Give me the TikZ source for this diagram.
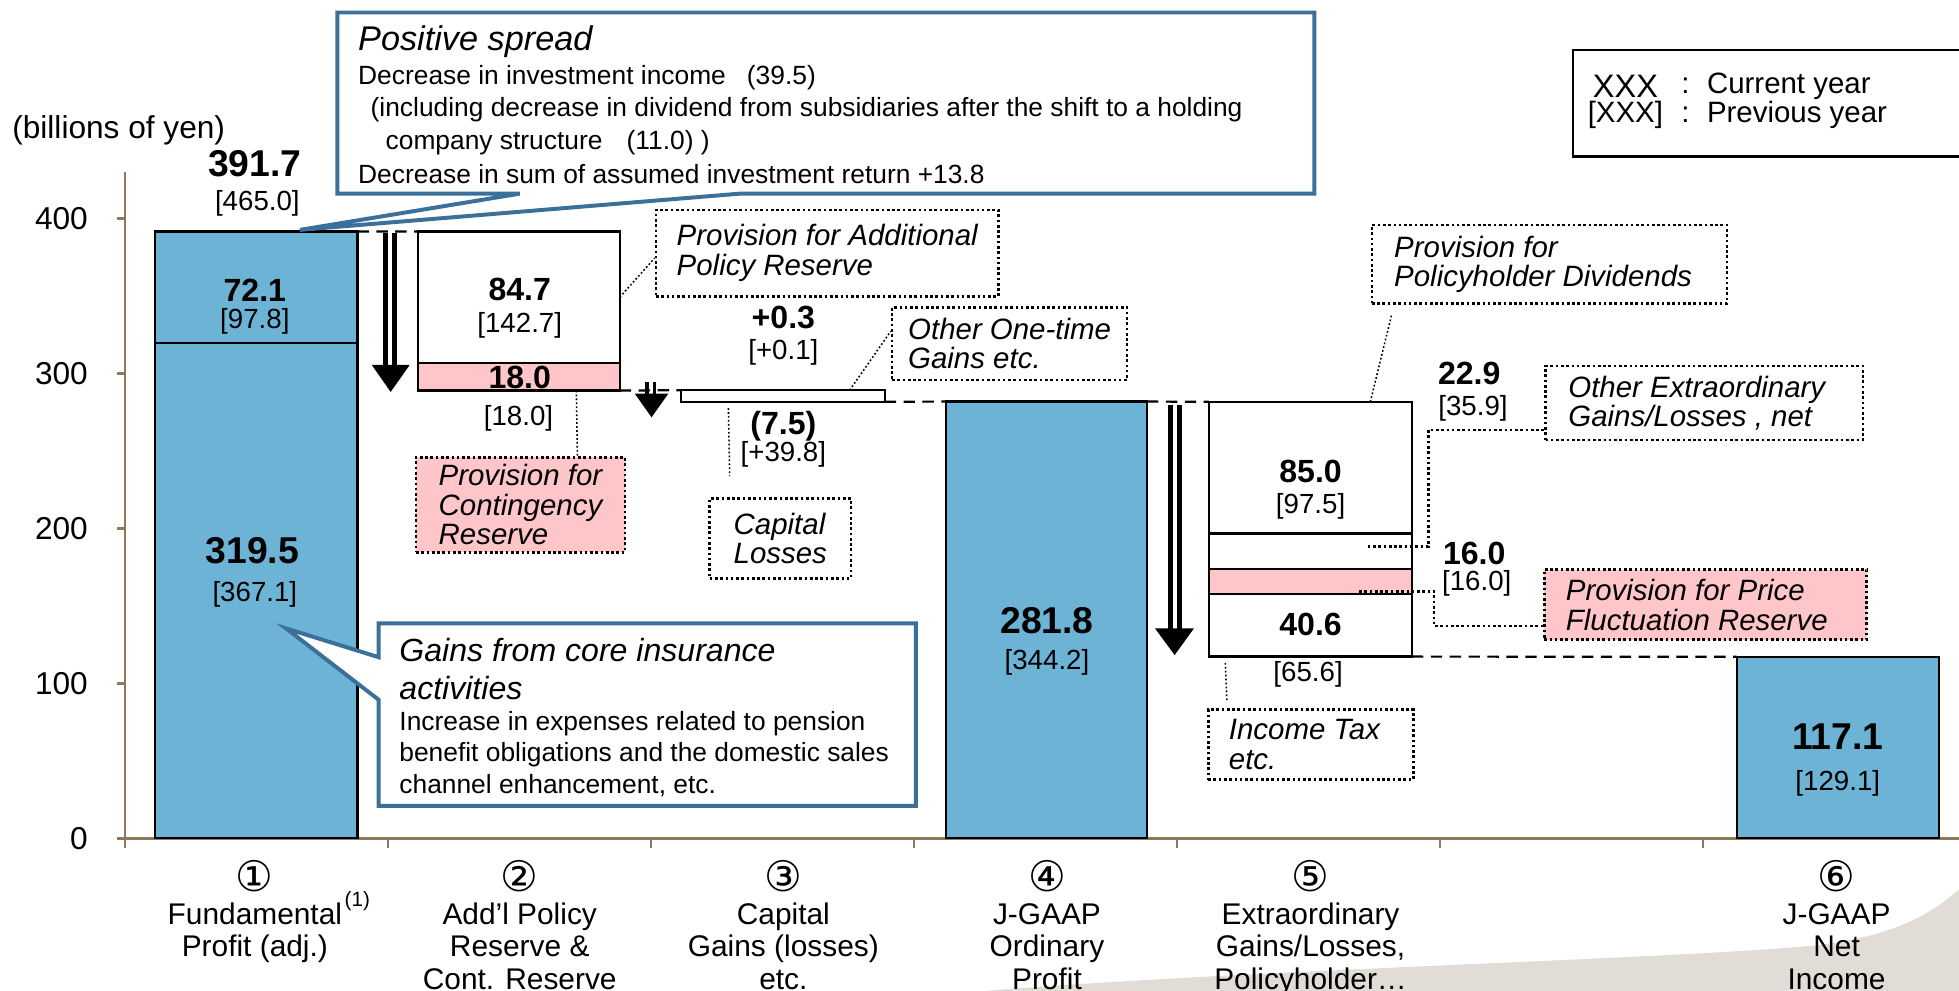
\documentclass[tikz,border=0pt]{standalone}
\usepackage{fontspec}
\setmainfont{Liberation Sans}
\newfontfamily\circfont{DejaVu Sans}
\definecolor{barblue}{HTML}{6CB3D5}
\definecolor{notepink}{HTML}{FFC6C9}
\definecolor{calloutblue}{HTML}{3B709A}
\definecolor{axistan}{HTML}{8C7B5A}
\definecolor{swoosh}{HTML}{E1DDD6}
\newcommand\circnum[1]{{\circfont\fontsize{9.6}{9.6}\selectfont #1}}
\tikzset{
  axisline/.style={draw=axistan, line width=0.6pt},
  bluebar/.style={fill=barblue, draw=black, line width=0.5pt, inner sep=0pt, outer sep=0pt},
  plainbar/.style={fill=white, draw=black, line width=0.5pt, inner sep=0pt, outer sep=0pt},
  pinkbar/.style={fill=notepink, draw=black, line width=0.5pt, inner sep=0pt, outer sep=0pt},
  bridge/.style={draw=black, line width=0.5pt, dash pattern=on 2.6pt off 1.7pt},
  shaft/.style={draw=black, line width=1.1pt},
  bubble/.style={draw=calloutblue, fill=white, line width=0.9pt, line join=miter},
  notebox/.style={draw=black, fill=white, line width=0.6pt, dash pattern=on 0.6pt off 0.6pt,
    font=\fontsize{6.7}{6.7}\selectfont\itshape, align=left, anchor=north west, inner sep=0pt},
  pinknote/.style={notebox, fill=notepink},
  leader/.style={draw=black, line width=0.35pt, dash pattern=on 0.4pt off 0.5pt},
  elbow/.style={draw=black, line width=0.6pt, dash pattern=on 0.6pt off 0.6pt},
  bigval/.style={font=\fontsize{8.5}{9}\selectfont\bfseries, inner sep=0pt},
  val/.style={font=\fontsize{7.3}{8}\selectfont\bfseries, inner sep=0pt},
  prev/.style={font=\fontsize{6.3}{7}\selectfont, inner sep=0pt},
  ticklabel/.style={font=\fontsize{7.2}{8}\selectfont, inner sep=0pt, anchor=east},
  catlabel/.style={font=\fontsize{6.8}{7.4}\selectfont, align=center, anchor=north, inner sep=0pt},
  spreadhead/.style={font=\fontsize{7.8}{9}\selectfont\itshape, anchor=west, inner sep=0pt},
  corehead/.style={font=\fontsize{7.3}{8}\selectfont\itshape, anchor=west, inner sep=0pt},
  spreadline/.style={font=\fontsize{6}{7}\selectfont, anchor=west, inner sep=0pt},
  legendtext/.style={font=\fontsize{6.7}{7}\selectfont, inner sep=0pt},
}

\begin{document}
\begin{tikzpicture}[x=0.01cm, y=-0.01cm]
\useasboundingbox (0,0) rectangle (1568,793);
% backdrop in the corner
\fill[swoosh] (790,793) .. controls (1000,776) and (1330,768) .. (1450,757)
  .. controls (1515,750) and (1545,732) .. (1568,712) -- (1568,793) -- cycle;

% axes
\draw[axisline] (100,138) -- (100,671);
\foreach \v in {0,100,200,300,400}
  \draw[axisline] (94,{671-1.24*\v}) -- (100,{671-1.24*\v});
\foreach \v in {0,100,200,300,400}
  \node[ticklabel] (ytick\v) at (71,{671-1.24*\v}) {\v};
\draw[axisline] (94,671) -- (1568,671);
\foreach \x in {100,310.5,521,731.5,942,1152.5,1363}
  \draw[axisline] (\x,671) -- (\x,679);
\node[font=\fontsize{7.2}{8}\selectfont, inner sep=0pt] (unit) at (95,104) {(billions of yen)};

% bars
\node[bluebar, minimum width=1.62cm, minimum height=3.962cm, anchor=south west] (bar1a) at (124,671) {};
\node[bluebar, minimum width=1.62cm, minimum height=0.895cm, anchor=south west] (bar1b) at (124,274.8) {};
\node[plainbar, minimum width=1.615cm, minimum height=1.05cm, anchor=north west] (bar2a) at (334.5,185.3) {};
\node[pinkbar, minimum width=1.615cm, minimum height=0.223cm, anchor=north west] (bar2b) at (334.5,290.3) {};
\node[plainbar, minimum width=1.63cm, minimum height=0.093cm, anchor=north west] (bar3) at (545,312.3) {};
\node[bluebar, minimum width=1.61cm, minimum height=3.494cm, anchor=south west] (bar4) at (757,671) {};
\node[plainbar, minimum width=1.625cm, minimum height=1.054cm, anchor=north west] (bar5a) at (967.5,321.6) {};
\node[plainbar, minimum width=1.625cm, minimum height=0.284cm, anchor=north west] (bar5b) at (967.5,427.0) {};
\node[pinkbar, minimum width=1.625cm, minimum height=0.198cm, anchor=north west] (bar5c) at (967.5,455.4) {};
\node[plainbar, minimum width=1.625cm, minimum height=0.503cm, anchor=north west] (bar5d) at (967.5,475.2) {};
\node[bluebar, minimum width=1.62cm, minimum height=1.452cm, anchor=south west] (bar6) at (1390,671) {};

% dashed steps between bars
\draw[bridge] (bar1b.north east) -- (bar2a.north west);
\draw[bridge] (bar2b.south east) -- (bar3.north west);
\draw[bridge] (bar3.south east) -- (bar4.north west);
\draw[bridge] (bar4.north east) -- (bar5a.north west);
\draw[bridge] (bar5d.south east) -- (bar6.north west);

% down arrows
\draw[shaft] (308.7,186.7) -- (308.7,294);
\draw[shaft] (315.7,186.7) -- (315.7,294);
\fill (297.5,292) -- (328,292) -- (312.7,313.7) -- cycle;
\draw[shaft, line width=0.8pt] (518,306) -- (518,317);
\draw[shaft, line width=0.8pt] (524,306) -- (524,317);
\fill (508,315) -- (535,315) -- (521.5,334) -- cycle;
\draw[shaft] (936.6,324) -- (936.6,505);
\draw[shaft] (943.8,324) -- (943.8,505);
\fill (924.5,503) -- (955.6,503) -- (940.2,524.3) -- cycle;

% values
\node[bigval] (tot1) at (204,131) {391.7};
\node[prev] (tot1p) at (206,163) {[465.0]};
\node[val] (v1b) at (204,232) {72.1};
\node[prev] (v1bp) at (204,257) {[97.8]};
\node[bigval] (v1a) at (202,441) {319.5};
\node[prev] (v1ap) at (204,476) {[367.1]};
\node[val] (v2a) at (416,232) {84.7};
\node[prev] (v2ap) at (416,260) {[142.7]};
\node[val] (v2b) at (416,302) {18.0};
\node[prev] (v2bp) at (415,335) {[18.0]};
\node[val] (v3up) at (627,254) {+0.3};
\node[prev] (v3upp) at (627,282) {[+0.1]};
\node[val] (v3dn) at (627,341) {(7.5)};
\node[prev] (v3dnp) at (627,364) {[+39.8]};
\node[bigval] (v4) at (838,497) {281.8};
\node[prev] (v4p) at (838,530) {[344.2]};
\node[val] (v5a) at (1049,377) {85.0};
\node[prev] (v5ap) at (1049,405) {[97.5]};
\node[val] (v5d) at (1049,500) {40.6};
\node[prev] (v5dp) at (1047,540) {[65.6]};
\node[val] (v5b) at (1176,299) {22.9};
\node[prev] (v5bp) at (1179,327) {[35.9]};
\node[val] (v5c) at (1180,443) {16.0};
\node[prev] (v5cp) at (1182,467) {[16.0]};
\node[bigval] (v6) at (1471,590) {117.1};
\node[prev] (v6p) at (1471,627) {[129.1]};

% speech bubbles
\draw[bubble] (270,10) -- (1052,10) -- (1052,155) -- (592,155) -- (240,184)
  -- (416,155) -- (270,155) -- cycle;
\node[spreadhead] (sp0) at (286,33) {Positive spread};
\node[spreadline] (sp1) at (286,62) {Decrease in investment income\hspace{4.8pt}(39.5)};
\node[spreadline] (sp2) at (296,88) {(including decrease in dividend from subsidiaries after the shift to a holding};
\node[spreadline] (sp3) at (308,114) {company structure\hspace{5.5pt}(11.0) )};
\node[spreadline] (sp4) at (286,139) {Decrease in sum of assumed investment return +13.8};
\draw[bubble] (303,499) -- (733,499) -- (733,645) -- (303,645) -- (303,560)
  -- (229,503) -- (303,526) -- cycle;
\node[corehead] (co0) at (319,520) {Gains from core insurance};
\node[corehead] (co1) at (319,551) {activities};
\node[spreadline] (co2) at (319,579) {Increase in expenses related to pension};
\node[spreadline] (co3) at (319,604) {benefit obligations and the domestic sales};
\node[spreadline] (co4) at (319,629) {channel enhancement, etc.};

% dotted notes
\node[notebox, minimum width=2.74cm, minimum height=0.69cm] (addl) at (524,167) {Provision for Additional\\Policy Reserve};
\node[pinknote, minimum width=1.67cm, minimum height=0.76cm] (contg) at (332,365) {Provision for\\Contingency\\Reserve};
\node[notebox, minimum width=1.88cm, minimum height=0.58cm] (onetime) at (713,245) {Other One-time\\Gains etc.};
\node[notebox, minimum width=1.13cm, minimum height=0.64cm] (caploss) at (567,398) {Capital\\Losses};
\node[notebox, minimum width=2.84cm, minimum height=0.63cm] (dividends) at (1097,179) {Provision for\\Policyholder Dividends\hspace*{0.1cm}};
\node[notebox, minimum width=2.54cm, minimum height=0.59cm] (otherextra) at (1236,292) {Other Extraordinary\hspace*{0.12cm}\\Gains/Losses , net};
\node[pinknote, minimum width=2.58cm, minimum height=0.56cm] (pricefluct) at (1235,455) {Provision for Price\\Fluctuation Reserve\hspace*{0.14cm}};
\node[notebox, minimum width=1.64cm, minimum height=0.56cm] (incometax) at (966,567) {Income Tax\hspace*{0.1cm}\\etc.};

% leaders
\draw[leader] (bar2a.east) -- ([yshift=-0.04cm]addl.west);
\draw[leader] ([xshift=0.46cm]bar2b.south) -- ([xshift=0.455cm]contg.north);
\draw[leader] ([xshift=0.535cm]bar3.north) -- ([yshift=0.1cm]onetime.west);
\draw[leader] ([xshift=-0.435cm,yshift=-0.05cm]bar3.south) -- ([xshift=-0.405cm,yshift=0.17cm]caploss.north);
\draw[leader] ([xshift=0.48cm]bar5a.north) -- ([xshift=-1.26cm,yshift=-0.07cm]dividends.south);
\draw[leader] ([xshift=-0.68cm,yshift=-0.05cm]bar5d.south) -- ([xshift=-0.67cm,yshift=0.05cm]incometax.north);
\draw[elbow] ([xshift=0.46cm,yshift=0.04cm]bar5b.center) -- ++(48.5,0) |- ([yshift=-0.215cm]otherextra.west);
\draw[elbow] ([xshift=0.39cm,yshift=-0.08cm]bar5c.center) -- ++(60,0) |- ([yshift=-0.17cm]pricefluct.west);

% legend
\draw[black, line width=0.6pt] (1572,40) -- (1259,40) -- (1259,125) -- (1572,125);
\node[legendtext, font=\fontsize{7.4}{8}\selectfont] (lgcur) at (1301,69) {XXX};
\node[legendtext] (lgprev) at (1301,92) {[XXX]};
\node[legendtext, anchor=west] (lgcurt) at (1345,69) {:\hspace{4pt}Current year};
\node[legendtext, anchor=west] (lgprevt) at (1345,92) {:\hspace{4pt}Previous year};

% categories
\node[catlabel] (cat1) at (204,688) {\circnum{①}\\Fundamental\\Profit (adj.)};
\node[font=\fontsize{4.7}{5}\selectfont, inner sep=0pt] (sup1) at (286,721) {(1)};
\node[catlabel] (cat2) at (416,688) {\circnum{②}\\Add’l Policy\\Reserve \&\\Cont. Reserve};
\node[catlabel] (cat3) at (627,688) {\circnum{③}\\Capital\\Gains (losses)\\etc.};
\node[catlabel] (cat4) at (838,688) {\circnum{④}\\J-GAAP\\Ordinary\\Profit};
\node[catlabel] (cat5) at (1049,688) {\circnum{⑤}\\Extraordinary\\Gains/Losses,\\Policyholder…};
\node[catlabel] (cat6) at (1470,688) {\circnum{⑥}\\J-GAAP\\Net\\Income};
\end{tikzpicture}
\end{document}
